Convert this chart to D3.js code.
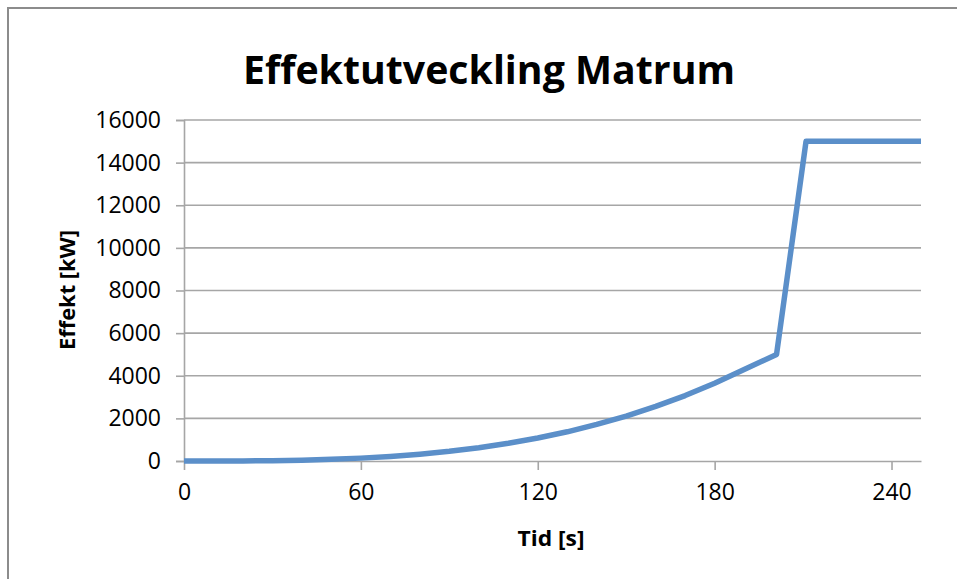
<!DOCTYPE html>
<html>
<head>
<meta charset="utf-8">
<script src="https://cdn.jsdelivr.net/npm/d3@7/dist/d3.min.js"></script>
<style>
  html, body { margin: 0; padding: 0; background: #fff; }
  svg { display: block; }
  text { font-family: "Open Sans", "Liberation Sans", sans-serif; fill: #000; }
</style>
</head>
<body>
<svg id="chart" width="957" height="579"></svg>
<script>
// Power ramp-up of the unit over time
const timeSec = [0, 10, 20, 30, 40, 50, 60, 70, 80, 90, 100, 110, 120, 130, 140, 150, 160, 170, 180, 190, 201, 211, 250];
const powerKW = [0, 0, 5, 15, 40, 80, 135, 215, 320, 455, 625, 830, 1080, 1370, 1720, 2110, 2560, 3070, 3650, 4290, 5000, 15000, 15000];
const xTicks = [0, 60, 120, 180, 240];
const yTicks = [0, 2000, 4000, 6000, 8000, 10000, 12000, 14000, 16000];

const titleText = "Effektutveckling Matrum";
const xTitle = "Tid [s]";
const yTitle = "Effekt [kW]";

const svg = d3.select("#chart");
const plot = { left: 184, right: 921, top: 120, bottom: 461 };

const x = d3.scaleLinear().domain([0, 250]).range([plot.left, plot.right]);
const y = d3.scaleLinear().domain([0, 16000]).range([plot.bottom, plot.top]);

// outer chart frame
svg.append("rect")
  .attr("x", 8).attr("y", 8).attr("width", 970).attr("height", 600)
  .attr("fill", "#fff").attr("stroke", "#8c8c8c").attr("stroke-width", 2);

// horizontal gridlines
svg.append("g").selectAll("line").data(yTicks.filter(d => d > 0)).join("line")
  .attr("x1", plot.left).attr("x2", plot.right)
  .attr("y1", d => y(d)).attr("y2", d => y(d))
  .attr("stroke", "#a6a6a6").attr("stroke-width", 1.6);

// y axis
const yAxis = svg.append("g")
  .attr("transform", `translate(${plot.left},0)`)
  .call(d3.axisLeft(y).tickValues(yTicks).tickSize(8).tickPadding(15).tickFormat(d3.format("d")));
yAxis.select(".domain").attr("stroke", "#a6a6a6").attr("stroke-width", 1.6);
yAxis.selectAll(".tick line").attr("stroke", "#a6a6a6").attr("stroke-width", 1.6);
yAxis.selectAll("text").attr("font-size", 23).attr("font-family", "'Open Sans', sans-serif").attr("fill", "#000");

// x axis
const xAxis = svg.append("g")
  .attr("transform", `translate(0,${plot.bottom})`)
  .call(d3.axisBottom(x).tickValues(xTicks).tickSize(9).tickSizeOuter(0).tickPadding(14));
xAxis.select(".domain").attr("stroke", "#a6a6a6").attr("stroke-width", 1.6);
xAxis.selectAll(".tick line").attr("stroke", "#a6a6a6").attr("stroke-width", 1.6);
xAxis.selectAll("text").attr("font-size", 23).attr("font-family", "'Open Sans', sans-serif").attr("fill", "#000");

// power curve
const line = d3.line().x((d, i) => x(timeSec[i])).y(d => y(d));
svg.append("path")
  .datum(powerKW)
  .attr("d", line)
  .attr("fill", "none")
  .attr("stroke", "#5b8fc9")
  .attr("stroke-width", 5.5)
  .attr("stroke-linejoin", "round");

// title
svg.append("text")
  .attr("x", 489).attr("y", 84)
  .attr("text-anchor", "middle")
  .attr("font-size", 40).attr("font-weight", "bold")
  .attr("textLength", 492).attr("lengthAdjust", "spacingAndGlyphs")
  .text(titleText);

// axis titles
svg.append("text")
  .attr("x", 551).attr("y", 546)
  .attr("text-anchor", "middle")
  .attr("font-size", 22).attr("font-weight", "bold")
  .attr("textLength", 67).attr("lengthAdjust", "spacingAndGlyphs")
  .text(xTitle);

svg.append("text")
  .attr("transform", "translate(75,290) rotate(-90)")
  .attr("text-anchor", "middle")
  .attr("font-size", 22).attr("font-weight", "bold")
  .attr("textLength", 120).attr("lengthAdjust", "spacingAndGlyphs")
  .text(yTitle);
</script>
</body>
</html>
